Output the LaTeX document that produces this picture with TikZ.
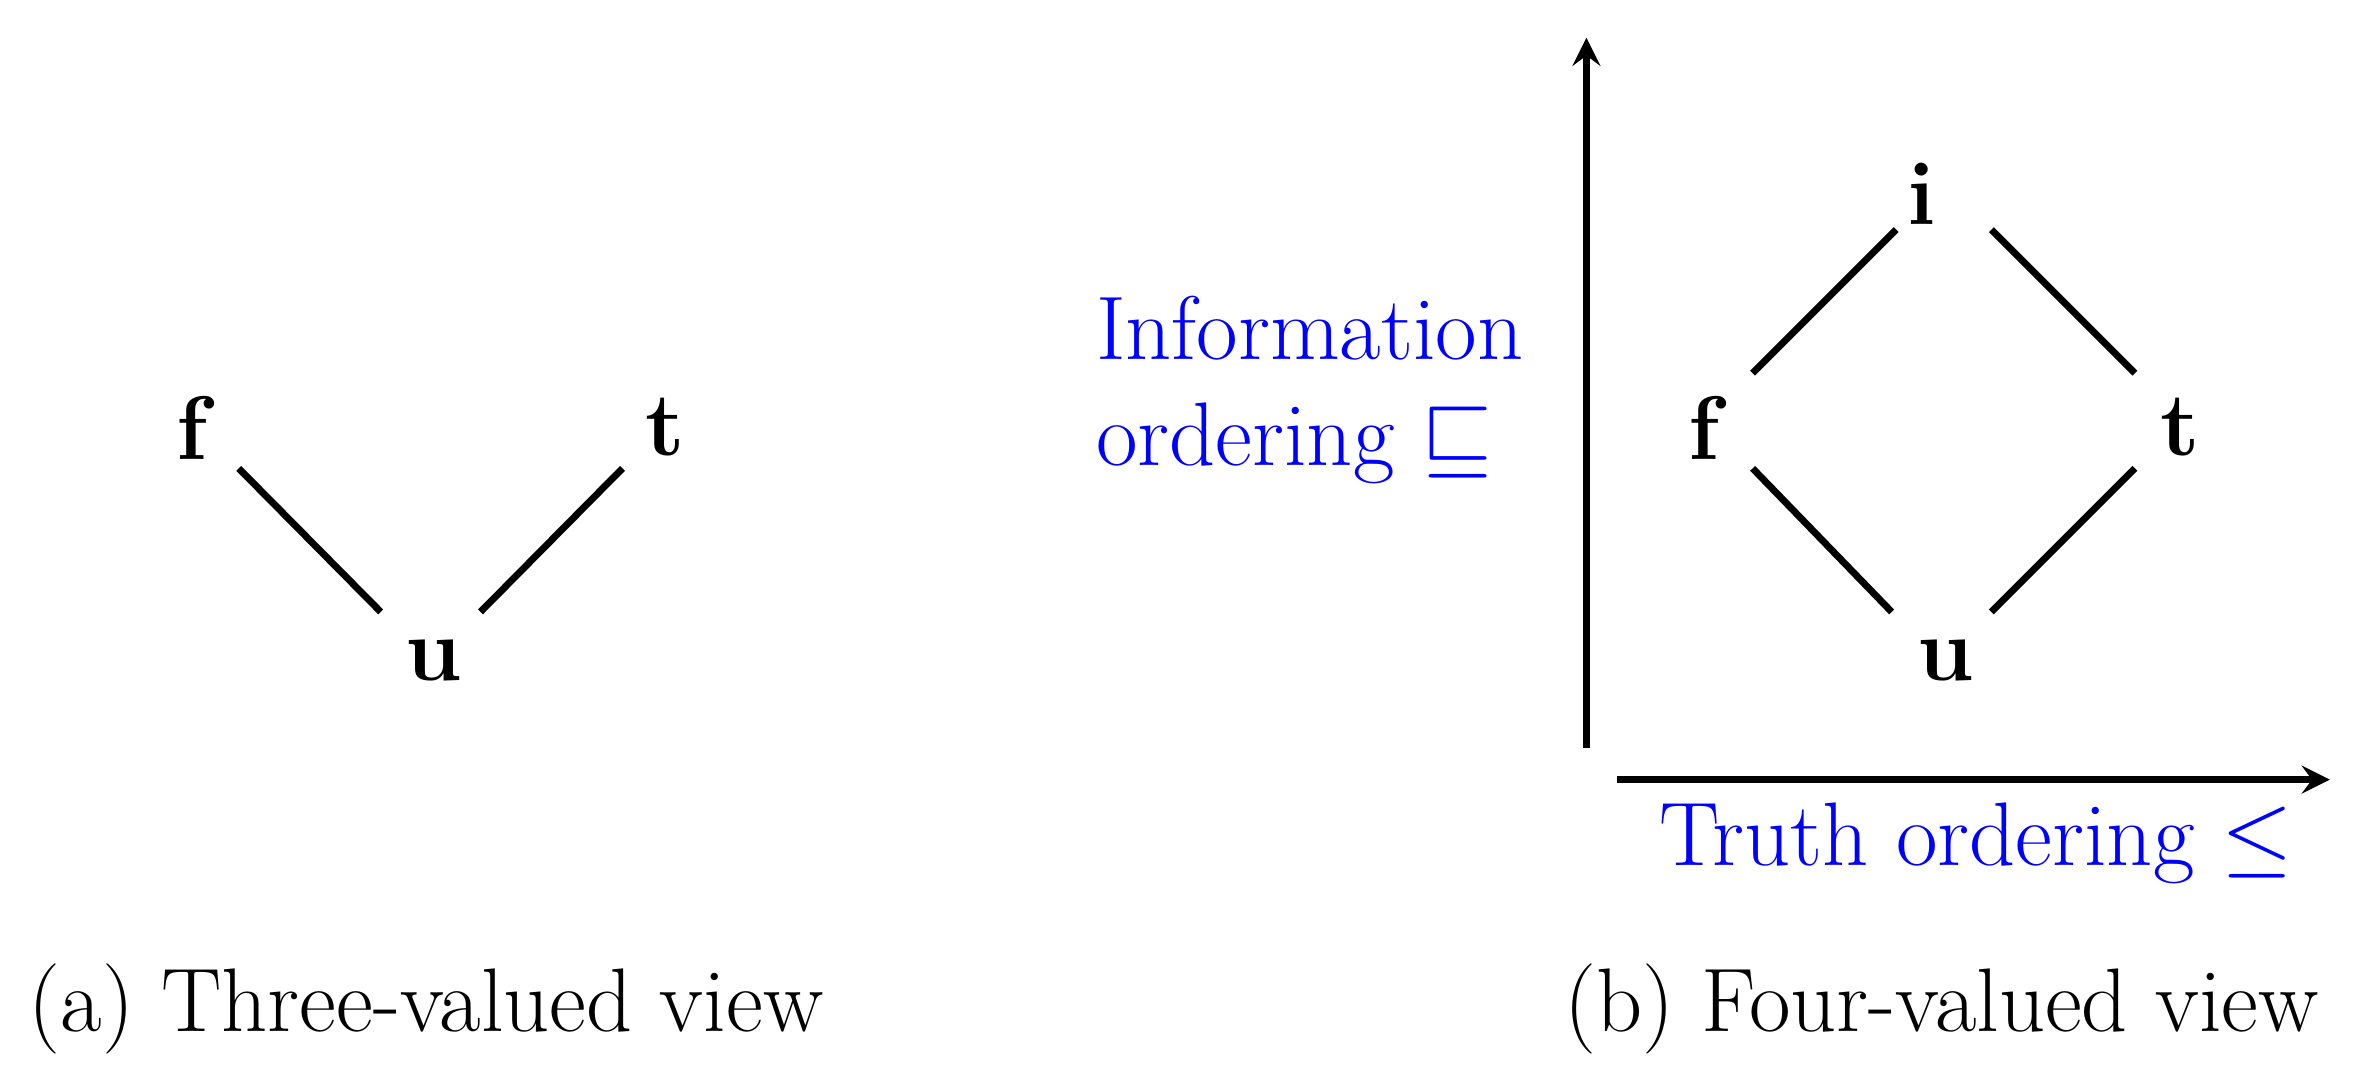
\documentclass[tikz,border=0pt]{standalone}
\usepackage{amssymb}
\begin{document}
\begin{tikzpicture}[x=0.01cm,y=-0.01cm,
  lab/.style={font=\fontsize{17}{20}\selectfont\bfseries},
  txt/.style={font=\fontsize{17}{20}\selectfont},
  blu/.style={txt,text=blue,align=left},
  ln/.style={line width=1.3pt},
  ar/.style={line width=1.3pt,-stealth}]
\useasboundingbox (0,0) rectangle (1560,715);
% (a)
\node[lab] (af) at (127,283) {f};
\node[lab] (at) at (440,283) {t};
\node[lab] (au) at (287,437) {u};
\coordinate (a1) at (158,310); \coordinate (a2) at (252,405);
\coordinate (a3) at (318,405); \coordinate (a4) at (412,310);
\draw[ln] (a1) -- (a2); \draw[ln] (a3) -- (a4);
\node[txt] (ca) at (282,668) {(a) Three-valued view};
% (b)
\node[lab] (bi) at (1272,128) {i};
\node[lab] (bf) at (1128,283) {f};
\node[lab] (bt) at (1443,283) {t};
\node[lab] (bu) at (1288,437) {u};
\coordinate (b1) at (1160,247); \coordinate (b2) at (1255,152);
\coordinate (b3) at (1318,152); \coordinate (b4) at (1413,247);
\coordinate (b5) at (1160,310); \coordinate (b6) at (1252,405);
\coordinate (b7) at (1318,405); \coordinate (b8) at (1413,310);
\draw[ln] (b1) -- (b2); \draw[ln] (b3) -- (b4);
\draw[ln] (b5) -- (b6); \draw[ln] (b7) -- (b8);
\coordinate (v0) at (1050,495); \coordinate (v1) at (1050,25);
\coordinate (h0) at (1070,516); \coordinate (h1) at (1542,516);
\draw[ar] (v0) -- (v1);
\draw[ar] (h0) -- (h1);
\node[blu,anchor=west] (info) at (713,258) {Information\\ordering $\sqsubseteq$};
\node[blu] (truth) at (1308,558) {Truth ordering $\leq$};
\node[txt] (cb) at (1285,668) {(b) Four-valued view};
\end{tikzpicture}
\end{document}
